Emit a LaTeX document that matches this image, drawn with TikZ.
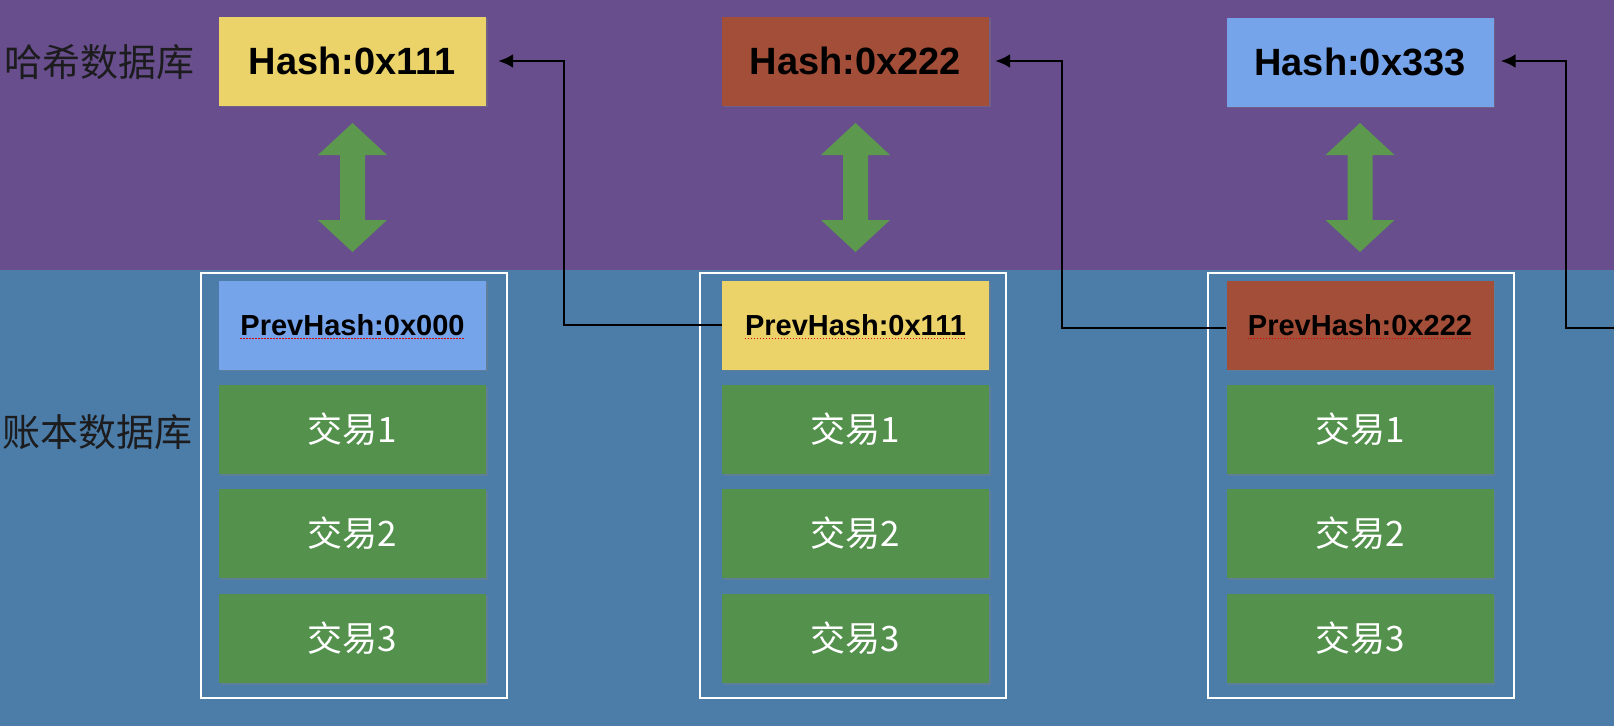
\documentclass[tikz,border=0pt]{standalone}
\usepackage{fontspec}
\setmainfont{Liberation Sans}
\newfontfamily\cjk{Noto Sans CJK SC}
\usetikzlibrary{arrows.meta,shadows}
\definecolor{bgpurple}{RGB}{104,78,140}
\definecolor{bgblue}{RGB}{76,125,169}
\definecolor{cyellow}{RGB}{235,211,106}
\definecolor{cbrown}{RGB}{163,78,56}
\definecolor{clblue}{RGB}{118,164,234}
\definecolor{cgreen}{RGB}{84,145,77}
\definecolor{agreen}{RGB}{92,152,78}
\definecolor{labelc}{RGB}{28,28,30}
\tikzset{
  inbox/.style={minimum width=267pt, minimum height=89pt, inner sep=0pt, draw=none,
    drop shadow={shadow xshift=1.5pt, shadow yshift=-1.5pt, opacity=0.35}},
  hashtxt/.style={font=\fontsize{38}{40}\selectfont\bfseries, text=black},
  prevtxt/.style={font=\fontsize{29}{31}\selectfont\bfseries, text=black, inner sep=0pt},
  txtxt/.style={font=\cjk\fontsize{35}{37}\selectfont, text=white},
  outbox/.style={draw=white, line width=2.5pt, minimum width=306pt, minimum height=425pt, inner sep=0pt},
  dblabel/.style={font=\cjk\fontsize{38}{40}\selectfont, text=labelc, anchor=west, inner sep=0pt},
  link/.style={draw=black, line width=2.6pt, -{Latex[length=15pt,width=14pt]}},
  spell/.style={draw=red!85!black, line width=1.4pt, dash pattern=on 1.5pt off 1.5pt}
}
\begin{document}
\begin{tikzpicture}[x=1pt,y=-1pt]
\useasboundingbox (0,0) rectangle (1614,726);
% backgrounds
\fill[bgpurple] (0,0) rectangle (1614,270);
\fill[bgblue] (0,270) rectangle (1614,726);

% labels
\node[dblabel] (l1) at (4,62) {哈希数据库};
\node[dblabel] (l2) at (2,432) {账本数据库};

% outer block frames
\node[outbox] (o1) at (354,485.5) {};
\node[outbox] (o2) at (853,485.5) {};
\node[outbox] (o3) at (1361,485.5) {};

% hash boxes
\node[inbox, fill=cyellow, hashtxt] (h1) at (352.5,61) {Hash:0x111};
\node[inbox, fill=cbrown, hashtxt] (h2) at (855.5,61) {Hash:0x222};
\node[inbox, fill=clblue, hashtxt] (h3) at (1360,62) {Hash:0x333};

% prevhash boxes
\node[inbox, fill=clblue] (p1) at (352.5,325) {};
\node[inbox, fill=cyellow] (p2) at (855.5,325) {};
\node[inbox, fill=cbrown] (p3) at (1360,325) {};
\node[prevtxt] (p1t) at (352.5,325) {PrevHash:0x000};
\node[prevtxt] (p2t) at (855.5,325) {PrevHash:0x111};
\node[prevtxt] (p3t) at (1360,325) {PrevHash:0x222};
\foreach \n in {p1t,p2t,p3t}{
  \draw[spell] ([yshift=-3pt]\n.base west) -- ([yshift=-3pt]\n.base east);
}

% transaction boxes
\foreach \c/\k in {352.5/1,855.5/2,1360/3}{
  \node[inbox, fill=cgreen, txtxt] (t\k a) at (\c,429.5) {交易1};
  \node[inbox, fill=cgreen, txtxt] (t\k b) at (\c,533.5) {交易2};
  \node[inbox, fill=cgreen, txtxt] (t\k c) at (\c,638.5) {交易3};
}

% green double arrows
\foreach \c in {352.5,855.5,1360}{
  \fill[agreen] (\c,123) -- ({\c+34.5},155) -- ({\c+12.5},155) -- ({\c+12.5},220)
    -- ({\c+34.5},220) -- (\c,252) -- ({\c-34.5},220) -- ({\c-12.5},220)
    -- ({\c-12.5},155) -- ({\c-34.5},155) -- cycle;
}

% connectors
\coordinate (k1) at (564,61);
\coordinate (k2) at (1062,61);
\coordinate (k3) at (1566,61);
\coordinate (e3) at (1614,328);
\draw[link] (p2.west) -| (k1) -- ([xshift=12pt]h1.east);
\draw[link] ([yshift=-3pt]p3.west) -| (k2) -- ([xshift=6pt]h2.east);
\draw[link] (e3) -| (k3) -- ([xshift=7pt]h3.east |- k3);
\end{tikzpicture}
\end{document}
